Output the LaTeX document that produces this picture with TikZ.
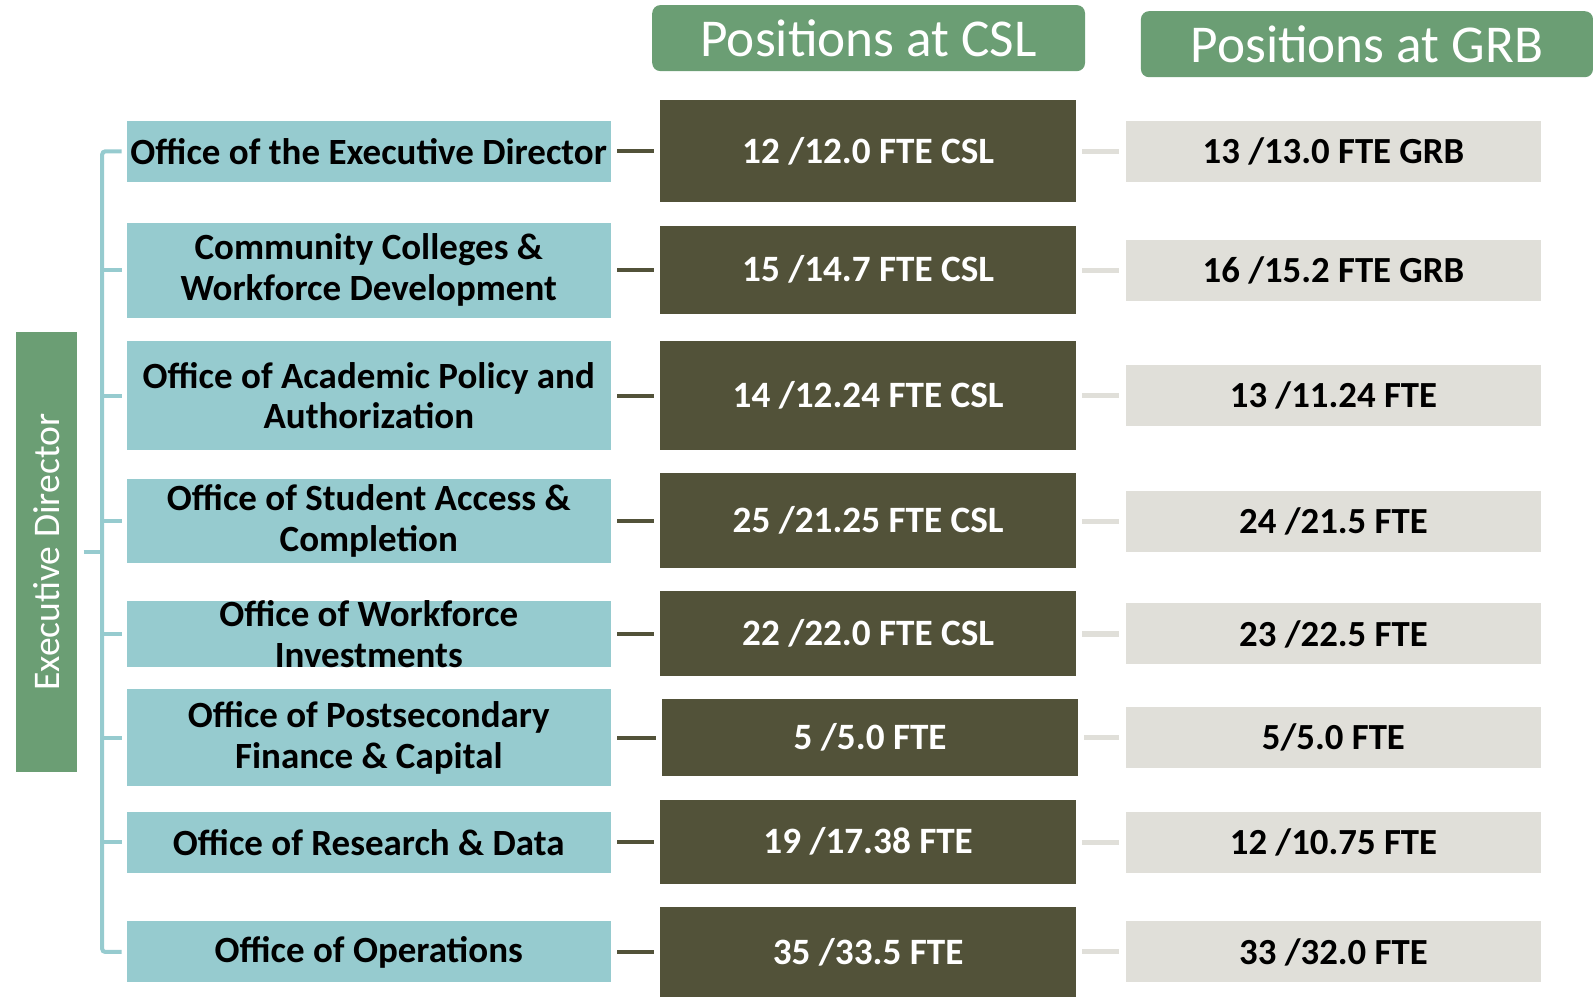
\documentclass[tikz,border=0pt]{standalone}
\usepackage{fontspec}
\setmainfont{Carlito}
\definecolor{tealbox}{HTML}{96CBCF}
\definecolor{olivebox}{HTML}{525239}
\definecolor{greybox}{HTML}{E0DFD9}
\definecolor{greenhdr}{HTML}{6B9E74}
\begin{document}
\begin{tikzpicture}[x=0.5pt,y=-0.5pt,
  leftbox/.style={fill=tealbox, minimum width=238pt, inner sep=0pt, align=center, text=black, font=\bfseries\fontsize{18.2}{20}\selectfont},
  darkbox/.style={fill=olivebox, minimum width=204.5pt, inner sep=0pt, align=center, text=white, font=\bfseries\fontsize{18.3}{20}\selectfont},
  greyfte/.style={fill=greybox, minimum width=204.5pt, minimum height=30pt, inner sep=0pt, align=center, text=black, font=\bfseries\fontsize{18.1}{20}\selectfont},
  hdr/.style={fill=greenhdr, rounded corners=4pt, minimum height=32.5pt, inner sep=0pt, text=white, font=\fontsize{26.2}{30}\selectfont},
  dconn/.style={draw=olivebox, line width=2pt, shorten <=3pt, shorten >=3pt},
  gconn/.style={draw=greybox, line width=2.5pt, shorten <=3pt, shorten >=3pt},
  spine/.style={draw=tealbox, line width=2pt}]
\useasboundingbox (0,0) rectangle (1568,981);
% headers
\node[hdr, minimum width=213pt] (hcsl) at (855,37.5) {Positions at CSL};
\node[hdr, minimum width=222.5pt] (hgrb) at (1345.5,43.5) {Positions at GRB};
% executive director
\node[fill=greenhdr, rotate=90, minimum width=216.5pt, minimum height=30pt, inner sep=0pt, text=white, font=\fontsize{18.5}{20}\selectfont] (ed) at (46,543.5) {Executive Director};
% left boxes
\node[leftbox, minimum height=30pt] (l1) at (363,149) {Office of the Executive Director};
\node[leftbox, minimum height=47pt] (l2) at (363,266) {Community Colleges \&\\Workforce Development};
\node[leftbox, minimum height=53.5pt] (l3) at (363,389.5) {Office of Academic Policy and\\Authorization};
\node[leftbox, minimum height=41.5pt] (l4) at (363,512.5) {Office of Student Access \&\\Completion};
\node[leftbox, minimum height=30pt] (l5) at (363,624) {Office of Workforce\\Investments};
\node[leftbox, minimum height=48pt] (l6) at (363,726) {Office of Postsecondary\\Finance \& Capital};
\node[leftbox, minimum height=30pt] (l7) at (363,829) {Office of Research \& Data};
\node[leftbox, minimum height=30pt] (l8) at (363,937) {Office of Operations};
% dark boxes
\node[darkbox, minimum height=50.5pt] (d1) at (854.5,148.5) {12 /12.0 FTE CSL};
\node[darkbox, minimum height=43.5pt] (d2) at (854.5,265.5) {15 /14.7 FTE CSL};
\node[darkbox, minimum height=53.5pt] (d3) at (854.5,389.5) {14 /12.24 FTE CSL};
\node[darkbox, minimum height=46.5pt] (d4) at (854.5,512.5) {25 /21.25 FTE CSL};
\node[darkbox, minimum height=41.5pt] (d5) at (854.5,623.5) {22 /22.0 FTE CSL};
\node[darkbox, minimum height=38pt] (d6) at (856.5,726) {5 /5.0 FTE};
\node[darkbox, minimum height=41.5pt] (d7) at (854.5,828.5) {19 /17.38 FTE};
\node[darkbox, minimum height=44pt] (d8) at (854.5,937) {35 /33.5 FTE};
% grey boxes
\node[greyfte] (g1) at (1312.5,149) {13 /13.0 FTE GRB};
\node[greyfte] (g2) at (1312.5,266) {16 /15.2 FTE GRB};
\node[greyfte] (g3) at (1312.5,389) {13 /11.24 FTE};
\node[greyfte] (g4) at (1312.5,513) {24 /21.5 FTE};
\node[greyfte] (g5) at (1312.5,624) {23 /22.5 FTE};
\node[greyfte] (g6) at (1312.5,726) {5/5.0 FTE};
\node[greyfte] (g7) at (1312.5,829) {12 /10.75 FTE};
\node[greyfte] (g8) at (1312.5,937) {33 /32.0 FTE};
% connectors
\foreach \i in {1,...,8}{
  \draw[dconn] (l\i.east) -- (l\i.east -| d\i.west);
  \draw[gconn] (g\i.west -| d\i.east) -- (g\i.west);
}
% spine
\coordinate (sp) at ([xshift=-12pt]l1.west);
\draw[spine, rounded corners=1.5pt] ([xshift=-2.5pt]l1.west) -- ([xshift=-12pt]l1.west) -- ([xshift=-12pt]l8.west) -- ([xshift=-2.5pt]l8.west);
\foreach \i in {2,...,7}{
  \draw[spine] ([xshift=-2.5pt]l\i.west) -- ([xshift=-12pt]l\i.west);
}
\draw[spine] ([xshift=3pt]ed.south) -- (ed.south -| sp);
\end{tikzpicture}
\end{document}
